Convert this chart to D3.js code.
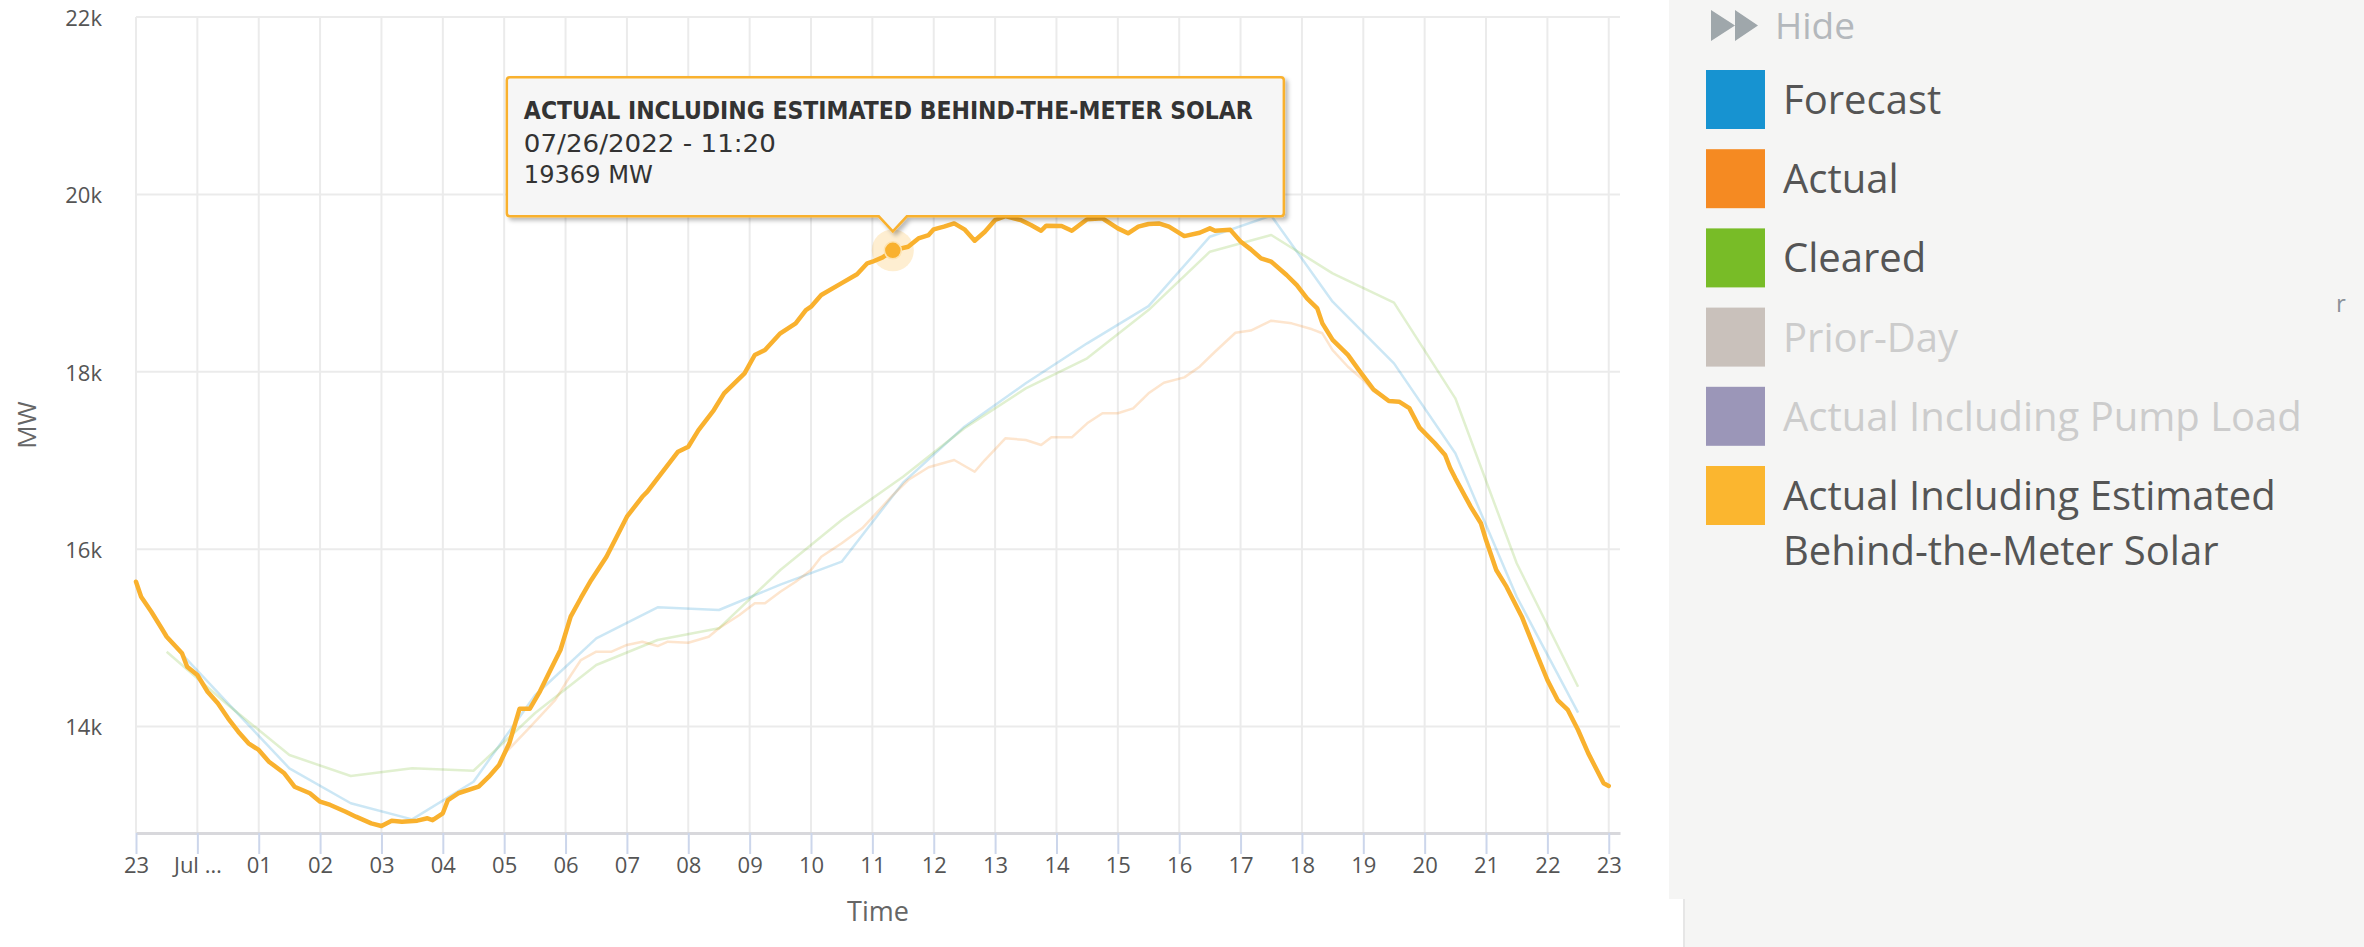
<!DOCTYPE html>
<html>
<head>
<meta charset="utf-8">
<script src="https://cdn.jsdelivr.net/npm/d3@7/dist/d3.min.js"></script>
<style>
  html, body { margin: 0; padding: 0; background: #ffffff; overflow: hidden; }
  svg { display: block; }
</style>
</head>
<body>
<svg id="chart" width="2364" height="947"></svg>
<script>
// ---------------- DATA ----------------
// time = minutes from midnight of 07/26/2022 (negative = previous day)
const xTickMinutes = [-60, 0, 60, 120, 180, 240, 300, 360, 420, 480, 540, 600, 660, 720, 780, 840, 900, 960, 1020, 1080, 1140, 1200, 1260, 1320, 1380];
const xTickLabels = ["23", "Jul \u2026", "01", "02", "03", "04", "05", "06", "07", "08", "09", "10", "11", "12", "13", "14", "15", "16", "17", "18", "19", "20", "21", "22", "23"];
const yTickValues = [14000, 16000, 18000, 20000, 22000];
const yTickLabels = ["14k", "16k", "18k", "20k", "22k"];

// hourly series plotted at half past each hour
const hourlyMinutes = [-30, 30, 90, 150, 210, 270, 330, 390, 450, 510, 570, 630, 690, 750, 810, 870, 930, 990, 1050, 1110, 1170, 1230, 1290, 1350];
const forecastValues = [15000, 14262, 13529, 13135, 12954, 13378, 14350, 14995, 15344, 15314, 15600, 15859, 16750, 17381, 17870, 18321, 18741, 19523, 19760, 18790, 18095, 17081, 15464, 14157];
const clearedValues = [14844, 14243, 13679, 13443, 13529, 13502, 14150, 14694, 14976, 15108, 15765, 16329, 16817, 17363, 17813, 18152, 18696, 19354, 19542, 19110, 18779, 17701, 15841, 14449];

// Actual (visible part; elsewhere it lies under the BTM line)
const actualMinutes = [300, 325, 350, 360, 375, 390, 405, 420, 435, 450, 460, 480, 500, 510, 530, 545, 555, 570, 585, 600, 610, 630, 650, 665, 680, 695, 715, 740, 760, 770, 790, 810, 825, 835, 855, 870, 885, 900, 915, 930, 945, 965, 980, 995, 1015, 1030, 1050, 1070, 1090, 1100, 1110, 1125, 1140, 1150, 1165];
const actualValues = [13690, 13990, 14300, 14488, 14750, 14844, 14844, 14920, 14957, 14908, 14957, 14945, 15013, 15108, 15258, 15390, 15390, 15520, 15633, 15765, 15915, 16066, 16235, 16420, 16610, 16780, 16923, 17005, 16873, 17005, 17250, 17231, 17174, 17261, 17261, 17419, 17532, 17532, 17588, 17757, 17877, 17937, 18057, 18226, 18440, 18465, 18576, 18546, 18479, 18434, 18245, 18057, 17907, 17780, 17670];

// Actual Including Estimated Behind-the-Meter Solar
const btmMinutes = [-60, -55, -45, -35, -30, -15, -10, 0, 10, 20, 30, 40, 50, 60, 70, 85, 95, 110, 120, 130, 145, 155, 170, 180, 190, 200, 215, 225, 230, 240, 245, 255, 275, 285, 295, 305, 310, 315, 325, 335, 345, 355, 365, 375, 385, 400, 410, 420, 435, 440, 455, 470, 480, 490, 505, 515, 535, 545, 555, 570, 585, 595, 600, 610, 630, 645, 655, 660, 670, 680, 695, 705, 715, 720, 730, 740, 750, 760, 770, 780, 790, 805, 815, 825, 830, 845, 855, 870, 885, 900, 910, 920, 930, 940, 950, 965, 980, 990, 995, 1010, 1020, 1030, 1040, 1050, 1065, 1075, 1085, 1095, 1100, 1110, 1125, 1135, 1150, 1165, 1175, 1185, 1195, 1210, 1220, 1225, 1230, 1245, 1255, 1260, 1270, 1280, 1295, 1310, 1320, 1330, 1340, 1350, 1360, 1375, 1380];
const btmValues = [15633, 15464, 15295, 15108, 15013, 14826, 14675, 14581, 14393, 14262, 14093, 13942, 13811, 13736, 13604, 13473, 13322, 13248, 13153, 13116, 13040, 12984, 12909, 12879, 12939, 12927, 12939, 12966, 12945, 13022, 13172, 13248, 13322, 13435, 13567, 13811, 14004, 14200, 14200, 14397, 14633, 14863, 15239, 15450, 15650, 15915, 16141, 16366, 16591, 16648, 16873, 17099, 17155, 17343, 17569, 17757, 17983, 18189, 18245, 18434, 18546, 18696, 18734, 18866, 19000, 19100, 19223, 19241, 19290, 19369, 19410, 19504, 19542, 19606, 19636, 19673, 19606, 19478, 19579, 19711, 19756, 19711, 19654, 19590, 19647, 19643, 19590, 19719, 19730, 19617, 19561, 19636, 19666, 19673, 19636, 19530, 19568, 19617, 19590, 19600, 19470, 19380, 19279, 19241, 19091, 18978, 18828, 18715, 18546, 18360, 18190, 18030, 17800, 17670, 17663, 17590, 17370, 17194, 17062, 16912, 16799, 16479, 16292, 16103, 15765, 15577, 15239, 14807, 14525, 14299, 14187, 13961, 13698, 13360, 13330];

// tooltip
const tooltipMinute = 680;
const tooltipTitle = "ACTUAL INCLUDING ESTIMATED BEHIND-THE-METER SOLAR";
const tooltipDate = "07/26/2022 - 11:20";
const tooltipValue = "19369 MW";

// legend
const legendLabels = [["Forecast"], ["Actual"], ["Cleared"], ["Prior-Day"], ["Actual Including Pump Load"], ["Actual Including Estimated", "Behind-the-Meter Solar"]];
const legendColors = ["#1793d1", "#f58a22", "#78bc27", "#c9c1bb", "#9b96b8", "#fbb62f"];
const legendHidden = [false, false, false, true, true, false];

// ---------------- DRAW ----------------
const svg = d3.select("#chart");
const FONT = "'Open Sans', 'Liberation Sans', sans-serif";
const colForecast = "#1793d1", colActual = "#f58a22", colCleared = "#78bc27", colBtm = "#f9b12e";

const x = d3.scaleLinear().domain([-60, 1391]).range([136, 1620]);
const y = d3.scaleLinear().domain([12800, 22000]).range([833, 17]);

const defs = svg.append("defs");
const f = defs.append("filter").attr("id", "shadow").attr("x", "-5%").attr("y", "-10%").attr("width", "115%").attr("height", "130%");
f.append("feDropShadow").attr("dx", 3).attr("dy", 3).attr("stdDeviation", 2.2).attr("flood-color", "#000").attr("flood-opacity", 0.28);

svg.append("rect").attr("x", 0).attr("y", 0).attr("width", 2364).attr("height", 947).attr("fill", "#ffffff");

// grid
const grid = svg.append("g");
grid.selectAll("line.h").data(yTickValues).join("line")
  .attr("x1", x.range()[0]).attr("x2", x.range()[1])
  .attr("y1", d => y(d)).attr("y2", d => y(d))
  .attr("stroke", "#ebebeb").attr("stroke-width", 2);
grid.selectAll("line.v").data(xTickMinutes).join("line")
  .attr("x1", d => x(d)).attr("x2", d => x(d))
  .attr("y1", y(22000)).attr("y2", y.range()[0])
  .attr("stroke", "#ebebeb").attr("stroke-width", 2);

// x axis
const xAxis = d3.axisBottom(x).tickValues(xTickMinutes).tickFormat((d, i) => xTickLabels[i]).tickSize(21).tickSizeOuter(0).tickPadding(4);
const gx = svg.append("g").attr("transform", `translate(0,${y.range()[0]})`).call(xAxis);
gx.select(".domain").attr("stroke", "#d8d8dc").attr("stroke-width", 3);
gx.selectAll(".tick line").attr("stroke", "#ccd6eb").attr("stroke-width", 2);
gx.selectAll(".tick text").attr("fill", "#555").attr("font-family", FONT).attr("font-size", 22).attr("y", 40).attr("dy", 0);

// y axis labels
const yAxis = d3.axisLeft(y).tickValues(yTickValues).tickFormat((d, i) => yTickLabels[i]).tickSize(0).tickPadding(34);
const gy = svg.append("g").attr("transform", `translate(${x.range()[0]},0)`).call(yAxis);
gy.select(".domain").remove();
gy.selectAll(".tick text").attr("fill", "#555").attr("font-family", FONT).attr("font-size", 22).attr("dy", "0.38em");

// axis titles
svg.append("text").attr("x", (x.range()[0] + x.range()[1]) / 2).attr("y", 921)
  .attr("text-anchor", "middle").attr("font-family", FONT).attr("font-size", 27).attr("fill", "#666").text("Time");
svg.append("text").attr("transform", `translate(36,${(y.range()[0] + y.range()[1]) / 2}) rotate(-90)`)
  .attr("text-anchor", "middle").attr("font-family", FONT).attr("font-size", 26).attr("fill", "#666").text("MW");

// series
const line = d3.line().x(d => x(d[0])).y(d => y(d[1]));
const plotG = svg.append("g");
const zip = (a, b) => a.map((t, i) => [t, b[i]]);

plotG.append("path").datum(zip(hourlyMinutes, forecastValues)).attr("d", line)
  .attr("fill", "none").attr("stroke", colForecast).attr("stroke-width", 2.5).attr("opacity", 0.22).attr("stroke-linejoin", "round");
plotG.append("path").datum(zip(actualMinutes, actualValues)).attr("d", line)
  .attr("fill", "none").attr("stroke", colActual).attr("stroke-width", 2.5).attr("opacity", 0.22).attr("stroke-linejoin", "round");
plotG.append("path").datum(zip(hourlyMinutes, clearedValues)).attr("d", line)
  .attr("fill", "none").attr("stroke", colCleared).attr("stroke-width", 2.5).attr("opacity", 0.22).attr("stroke-linejoin", "round");
plotG.append("path").datum(zip(btmMinutes, btmValues)).attr("d", line)
  .attr("fill", "none").attr("stroke", colBtm).attr("stroke-width", 4.5).attr("stroke-linejoin", "round").attr("stroke-linecap", "round");

// hovered point
const tIdx = btmMinutes.indexOf(tooltipMinute);
const px = x(tooltipMinute), py = y(btmValues[tIdx]);
plotG.append("circle").attr("cx", px).attr("cy", py).attr("r", 21).attr("fill", colBtm).attr("opacity", 0.22);
plotG.append("circle").attr("cx", px).attr("cy", py).attr("r", 8.5).attr("fill", colBtm).attr("stroke", "#fde3b0").attr("stroke-width", 1.5);

// tooltip
const bx0 = px - 386, bx1 = px + 391, by0 = py - 173, by1 = py - 34, apexY = py - 19, r = 3, nw = 14;
const tipPath = `M${bx0 + r},${by0} H${bx1 - r} Q${bx1},${by0} ${bx1},${by0 + r} V${by1 - r} Q${bx1},${by1} ${bx1 - r},${by1} H${px + nw} L${px},${apexY} L${px - nw},${by1} H${bx0 + r} Q${bx0},${by1} ${bx0},${by1 - r} V${by0 + r} Q${bx0},${by0} ${bx0 + r},${by0} Z`;
const tip = svg.append("g");
tip.append("path").attr("d", tipPath).attr("fill", "#f7f7f7").attr("fill-opacity", 0.97)
  .attr("stroke", colBtm).attr("stroke-width", 2.5).attr("filter", "url(#shadow)");
tip.append("text").attr("x", bx0 + 17).attr("y", by0 + 42)
  .attr("font-family", "'DejaVu Sans Condensed', 'Liberation Sans', 'DejaVu Sans', sans-serif").attr("font-weight", "bold")
  .attr("font-size", 24).attr("fill", "#333").attr("textLength", 729).attr("lengthAdjust", "spacingAndGlyphs").text(tooltipTitle);
tip.append("text").attr("x", bx0 + 17).attr("y", by0 + 75)
  .attr("font-family", "'DejaVu Sans', Verdana, sans-serif").attr("font-size", 25).attr("fill", "#333")
  .attr("textLength", 252).attr("lengthAdjust", "spacingAndGlyphs").text(tooltipDate);
tip.append("text").attr("x", bx0 + 17).attr("y", by0 + 106)
  .attr("font-family", "'DejaVu Sans', Verdana, sans-serif").attr("font-size", 25).attr("fill", "#333")
  .attr("textLength", 129).attr("lengthAdjust", "spacingAndGlyphs").text(tooltipValue);

// legend panel
const panel = svg.append("g");
panel.append("rect").attr("x", 1669).attr("y", 0).attr("width", 2364 - 1669).attr("height", 899).attr("fill", "#f5f5f4");
panel.append("rect").attr("x", 1684).attr("y", 0).attr("width", 2364 - 1684).attr("height", 947).attr("fill", "#f5f5f4");
panel.append("line").attr("x1", 1684).attr("x2", 1684).attr("y1", 899).attr("y2", 947).attr("stroke", "#e6e6e6").attr("stroke-width", 2);

// hide control
panel.append("path").attr("d", "M1711,10 L1735,25.5 L1711,41 Z M1735,10 L1758,25.5 L1735,41 Z").attr("fill", "#9fa7ab");
panel.append("text").attr("x", 1775).attr("y", 39).attr("font-family", FONT).attr("font-size", 37).attr("fill", "#b4b8bc").text("Hide");

const itemTop0 = 70, itemStep = 79.2, sw = 59;
legendLabels.forEach((lines, i) => {
  const top = itemTop0 + i * itemStep;
  panel.append("rect").attr("x", 1706).attr("y", top).attr("width", sw).attr("height", sw).attr("fill", legendColors[i]);
  lines.forEach((t, j) => {
    panel.append("text").attr("x", 1783).attr("y", top + 44 + j * 54.6)
      .attr("font-family", FONT).attr("font-size", 40)
      .attr("fill", legendHidden[i] ? "#cccccc" : "#555555").text(t);
  });
});
panel.append("text").attr("x", 2336).attr("y", 312).attr("font-family", FONT).attr("font-size", 24).attr("fill", "#8c929a").text("r");
</script>
</body>
</html>
